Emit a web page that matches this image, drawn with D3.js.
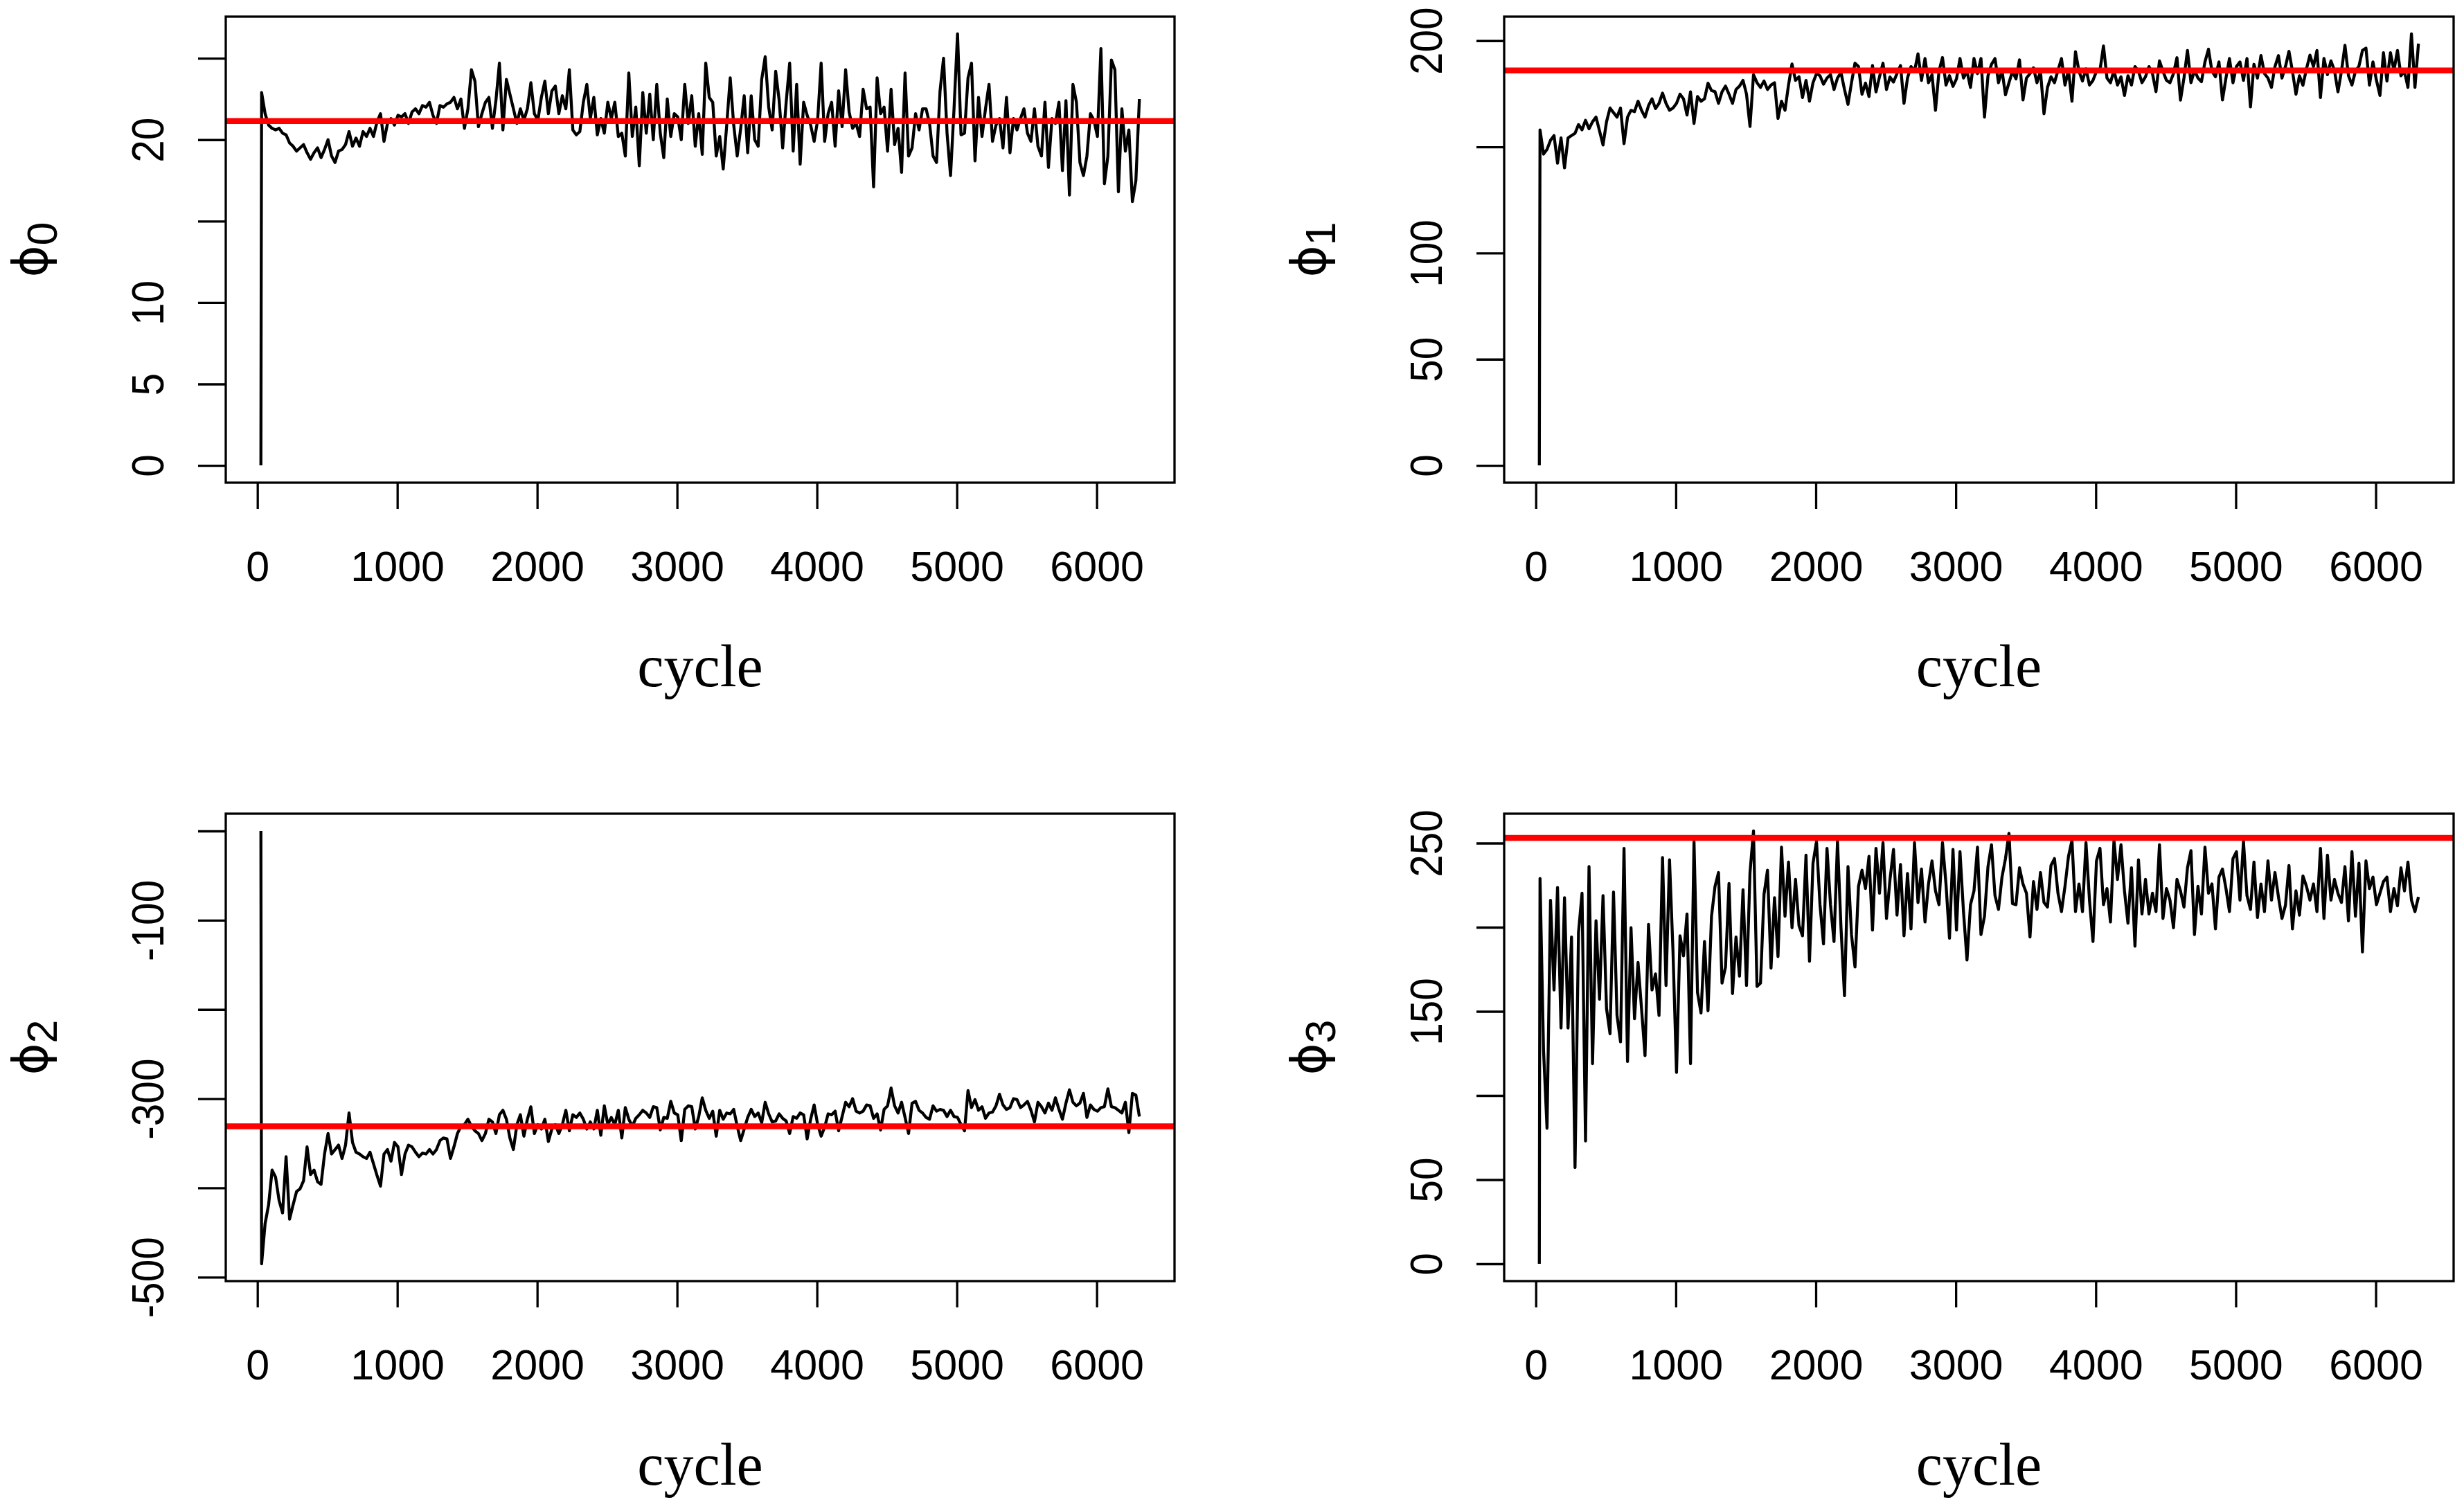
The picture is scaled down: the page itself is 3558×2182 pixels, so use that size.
<!DOCTYPE html>
<html lang="en">

<head>
    <meta charset="UTF-8">
    <title>MCMC trace plots</title>
    <script src="https://d3js.org/d3.v7.min.js"></script>
    <style>
        body { margin: 0; background: #ffffff; overflow: hidden; }
    </style>
</head>

<body>
    <div class="canvas"></div>

    <script>
        // chain start (cycles 25 and 27), then one value every 25 cycles from cycle 30
        let leadCycles = [25, 27];
        let firstCycle = 30;
        let cycleStep = 25;

        let phi0Lead = [0, 11];
        let phi0 = [
            22.9, 21.6, 20.9, 20.7, 20.6, 20.7, 20.4, 20.3, 19.8, 19.6,
            19.3, 19.5, 19.7, 19.2, 18.8, 19.2, 19.5, 18.9, 19.4, 20.0,
            19.0, 18.6, 19.3, 19.4, 19.7, 20.5, 19.6, 20.1, 19.6, 20.5,
            20.2, 20.7, 20.2, 21.1, 21.6, 19.9, 21.0, 21.3, 20.9, 21.5,
            21.4, 21.6, 21.0, 21.7, 21.9, 21.6, 22.1, 22.0, 22.3, 21.5,
            21.0, 22.1, 22.0, 22.2, 22.3, 22.6, 21.9, 22.5, 20.7, 21.9,
            24.3, 23.6, 20.8, 21.6, 22.3, 22.6, 20.7, 22.4, 24.7, 20.6,
            23.7, 22.8, 21.9, 21.0, 21.9, 21.2, 21.9, 23.5, 21.6, 21.2,
            22.6, 23.6, 21.6, 23.0, 23.3, 21.6, 22.7, 21.9, 24.3, 20.6,
            20.3, 20.5, 22.3, 23.4, 21.3, 22.6, 20.3, 21.3, 20.4, 22.3,
            21.3, 22.3, 20.2, 20.4, 19.0, 24.1, 20.2, 22.0, 18.4, 22.9,
            20.4, 22.8, 20.0, 23.4, 20.4, 18.9, 22.5, 20.2, 21.6, 21.4,
            20.0, 23.4, 21.0, 22.7, 19.6, 21.6, 19.1, 24.7, 22.6, 22.3,
            19.0, 20.2, 18.2, 20.9, 23.8, 20.9, 19.0, 20.7, 22.7, 19.2,
            22.7, 20.0, 19.6, 23.7, 25.1, 22.0, 20.6, 24.2, 22.4, 19.5,
            22.3, 24.7, 19.3, 23.4, 18.5, 22.3, 21.5, 20.9, 19.9, 21.2,
            24.7, 19.9, 21.6, 22.3, 19.6, 23.0, 20.8, 24.3, 21.7, 20.7,
            21.0, 20.2, 23.1, 21.9, 22.0, 17.1, 23.8, 21.6, 22.0, 19.3,
            23.1, 19.7, 20.7, 18.0, 24.1, 19.0, 19.5, 21.6, 20.6, 21.9,
            21.9, 21.0, 19.0, 18.6, 23.0, 25.0, 20.4, 17.8, 21.9, 26.5,
            20.3, 20.4, 23.8, 24.7, 18.7, 22.6, 20.2, 21.9, 23.4, 19.9,
            20.9, 21.3, 19.5, 22.6, 19.2, 21.3, 20.6, 21.3, 21.9, 20.4,
            19.9, 21.9, 19.6, 19.0, 22.3, 18.3, 21.3, 21.0, 22.3, 18.1,
            22.4, 16.6, 23.4, 22.3, 18.6, 17.8, 19.0, 21.6, 21.2, 20.2,
            25.6, 17.3, 19.0, 24.9, 24.3, 16.8, 21.9, 19.3, 20.6, 16.2,
            17.5, 22.5
        ];

        let phi1Lead = [0, 70];
        let phi1 = [
            158.0, 146.6, 148.8, 153.1, 155.3, 142.3, 154.2, 140.1, 154.2, 155.3,
            156.4, 160.5, 158.0, 162.5, 158.5, 161.8, 164.0, 157.5, 150.9, 161.8,
            168.3, 166.1, 164.0, 168.3, 151.5, 164.0, 167.2, 166.6, 171.5, 167.2,
            164.0, 169.4, 172.6, 168.0, 170.5, 175.3, 170.5, 167.2, 168.3, 170.5,
            174.8, 172.6, 165.0, 175.9, 161.0, 173.7, 171.5, 172.6, 180.0, 176.5,
            176.0, 170.5, 175.9, 178.6, 174.8, 170.5, 177.0, 178.6, 181.3, 174.8,
            159.6, 184.0, 180.2, 178.0, 181.0, 177.0, 179.1, 180.2, 163.4, 171.5,
            167.2, 179.1, 189.0, 181.3, 183.0, 173.2, 181.3, 171.5, 180.2, 184.5,
            183.5, 179.5, 182.4, 184.0, 177.0, 182.4, 185.0, 177.0, 170.0, 180.2,
            189.4, 187.8, 174.8, 180.0, 173.7, 188.3, 175.9, 183.0, 189.4, 177.0,
            182.9, 180.5, 184.5, 188.3, 170.5, 182.4, 187.8, 185.6, 193.8, 181.3,
            191.6, 180.2, 184.0, 167.2, 185.6, 192.1, 179.1, 183.5, 178.5, 182.0,
            191.6, 182.4, 185.6, 178.0, 191.6, 184.5, 191.6, 164.0, 183.5, 188.9,
            191.6, 180.2, 186.0, 174.5, 180.2, 185.5, 182.0, 191.0, 172.1, 182.4,
            184.5, 187.2, 180.2, 185.6, 165.6, 178.0, 183.0, 180.2, 186.0, 191.6,
            179.1, 186.0, 171.5, 194.8, 185.6, 181.0, 186.7, 179.1, 181.3, 185.6,
            186.0, 197.5, 182.4, 180.2, 186.0, 179.1, 183.0, 174.2, 183.5, 179.1,
            187.8, 185.6, 180.2, 183.0, 187.8, 184.5, 176.0, 190.5, 185.6, 181.3,
            180.2, 184.5, 192.0, 172.0, 182.4, 195.4, 180.2, 186.0, 182.4, 180.7,
            190.0, 196.0, 185.6, 183.0, 190.0, 172.1, 182.4, 191.6, 180.2, 187.8,
            190.0, 181.3, 191.6, 168.8, 188.9, 182.4, 193.0, 184.5, 182.4, 178.0,
            187.8, 193.0, 182.4, 187.8, 195.0, 185.6, 174.8, 183.5, 179.0, 186.7,
            193.2, 187.8, 195.4, 173.2, 191.6, 184.0, 190.5, 186.0, 175.9, 185.6,
            197.8, 183.5, 179.1, 185.6, 188.0, 195.4, 196.5, 179.1, 190.0, 181.3,
            174.2, 194.3, 181.0, 194.3, 186.0, 195.4, 183.5, 185.6, 178.0, 203.2,
            178.0, 198.6
        ];

        let phi2Lead = [0, -245];
        let phi2 = [
            -485, -440, -419, -380, -388, -414, -428, -365, -435, -419,
            -404, -401, -392, -354, -385, -380, -393, -396, -362, -339,
            -362, -357, -352, -367, -352, -316, -349, -360, -362, -365,
            -367, -360, -373, -386, -398, -362, -357, -370, -349, -354,
            -385, -362, -352, -354, -360, -365, -361, -362, -357, -362,
            -357, -347, -344, -345, -367, -354, -339, -331, -329, -323,
            -331, -336, -339, -347, -339, -323, -326, -339, -318, -313,
            -323, -344, -357, -329, -318, -342, -323, -309, -339, -329,
            -334, -323, -348, -334, -329, -339, -329, -313, -336, -318,
            -321, -316, -323, -334, -326, -334, -313, -341, -308, -329,
            -321, -329, -313, -344, -310, -323, -331, -322, -318, -313,
            -316, -321, -309, -310, -335, -321, -322, -303, -316, -318,
            -347, -312, -308, -309, -334, -320, -299, -313, -322, -314,
            -342, -313, -323, -316, -317, -312, -331, -347, -334, -321,
            -312, -320, -316, -327, -304, -317, -326, -325, -317, -322,
            -325, -339, -320, -322, -316, -318, -345, -323, -307, -329,
            -342, -332, -317, -318, -314, -336, -320, -304, -309, -300,
            -314, -316, -314, -307, -308, -322, -317, -335, -312, -308,
            -288, -308, -316, -304, -321, -339, -305, -303, -313, -316,
            -321, -323, -308, -314, -312, -313, -320, -313, -320, -321,
            -329, -336, -291, -310, -301, -313, -309, -322, -316, -315,
            -308, -295, -307, -312, -310, -300, -301, -310, -307, -303,
            -313, -326, -304, -309, -316, -305, -313, -299, -312, -323,
            -305, -290, -304, -308, -305, -294, -321, -307, -312, -314,
            -310, -309, -289, -309, -310, -313, -316, -304, -338, -294,
            -296, -320
        ];

        let phi3Lead = [0, 115];
        let phi3 = [
            229.0, 127.0, 80.5, 216.0, 162.7, 223.6, 140.1, 217.5, 140.1, 194.2,
            57.2, 196.9, 220.2, 73.0, 236.0, 118.9, 203.8, 157.2, 218.8, 151.7,
            136.7, 220.9, 147.6, 131.9, 246.9, 120.2, 199.7, 145.6, 179.1, 151.7,
            123.7, 201.7, 162.7, 172.3, 147.6, 241.4, 165.4, 240.1, 185.3, 113.7,
            194.9, 183.0, 207.9, 118.9, 251.0, 161.3, 149.0, 191.5, 150.4, 206.5,
            224.3, 232.5, 166.8, 176.4, 226.0, 160.6, 194.2, 170.9, 222.3, 165.4,
            232.5, 257.2, 164.8, 166.8, 219.5, 233.9, 175.7, 217.5, 182.6, 247.6,
            206.5, 238.7, 199.7, 228.4, 201.0, 194.9, 242.8, 179.8, 238.0, 251.0,
            213.4, 190.1, 246.9, 213.4, 191.5, 251.0, 199.7, 159.3, 236.0, 195.6,
            176.4, 224.3, 233.9, 223.0, 242.1, 198.3, 246.9, 220.2, 250.3, 205.2,
            228.4, 246.2, 207.2, 237.3, 194.9, 231.9, 199.0, 250.3, 214.7, 234.6,
            203.1, 225.7, 239.4, 221.6, 213.4, 250.3, 225.7, 193.5, 246.2, 198.3,
            244.9, 209.3, 180.5, 213.4, 221.6, 247.6, 195.6, 206.5, 236.0,
            249.0, 218.8, 210.6, 229.8, 240.8, 255.8, 214.0, 213.4, 235.3, 225.7,
            220.2, 194.2, 227.1, 210.6, 232.5, 214.7, 212.0, 236.7, 240.8, 220.2,
            209.3, 224.3, 242.1, 251.7, 209.3, 225.7, 209.3, 250.3, 216.1, 191.5,
            239.4, 246.9, 213.4, 223.0, 203.1, 251.7, 228.4, 249.0, 221.6, 202.4,
            235.3, 188.7, 240.1, 207.9, 228.4, 207.9, 220.2, 209.3, 249.0, 205.2,
            223.0, 216.1, 199.7, 228.4, 221.6, 212.0, 235.3, 245.5, 195.6, 224.3,
            207.9, 247.6, 220.2, 225.7, 199.0, 229.8, 234.6, 223.0, 209.3, 240.8,
            244.9, 216.1, 251.0, 218.8, 210.6, 238.7, 205.8, 225.7, 209.3, 239.4,
            216.1, 232.5, 218.0, 205.2, 213.0, 236.7, 199.0, 221.6, 207.2, 230.5,
            224.3, 216.1, 225.7, 209.3, 246.9, 205.2, 242.8, 216.1, 228.4, 220.2,
            214.7, 236.0, 203.8, 244.9, 206.5, 238.0, 185.3, 239.4, 223.0, 229.8,
            213.4, 220.2, 227.1, 229.8, 209.3, 223.0, 212.7, 235.3, 221.6, 238.7,
            216.1, 209.3, 218.0
        ];

        // posterior means (red lines)
        let phiMeans = [21.15, 186.0, -331, 253.1];

        // axis ticks and the labels R actually printed
        let xTicks = [0, 1000, 2000, 3000, 4000, 5000, 6000];
        let phi0Ticks = [0, 5, 10, 15, 20, 25];
        let phi0Labels = [0, 5, 10, 20];
        let phi1Ticks = [0, 50, 100, 150, 200];
        let phi1Labels = [0, 50, 100, 200];
        let phi2Ticks = [-500, -400, -300, -200, -100, 0];
        let phi2Labels = [-500, -300, -100];
        let phi3Ticks = [0, 50, 100, 150, 200, 250];
        let phi3Labels = [0, 50, 150, 250];
        let subscripts = ["0", "1", "2", "3"];

        // layout (plot boxes in px)
        let width = 3558, height = 2182;
        let colX = [[326, 1696], [2172, 3543]];
        let rowY = [[24, 697], [1175, 1850]];
        let sansFont = "'Liberation Sans', Arial, Helvetica, sans-serif";

        let panels = [
            { lead: phi0Lead, values: phi0, ticks: phi0Ticks, labels: phi0Labels, mean: phiMeans[0], sub: subscripts[0], col: 0, row: 0 },
            { lead: phi1Lead, values: phi1, ticks: phi1Ticks, labels: phi1Labels, mean: phiMeans[1], sub: subscripts[1], col: 1, row: 0 },
            { lead: phi2Lead, values: phi2, ticks: phi2Ticks, labels: phi2Labels, mean: phiMeans[2], sub: subscripts[2], col: 0, row: 1 },
            { lead: phi3Lead, values: phi3, ticks: phi3Ticks, labels: phi3Labels, mean: phiMeans[3], sub: subscripts[3], col: 1, row: 1 }
        ];

        // R style 4% axis padding
        function pad(e) {
            let r = e[1] - e[0];
            return [e[0] - 0.04 * r, e[1] + 0.04 * r];
        }

        let svg = d3.select("body").select(".canvas")
            .append("svg")
            .attr("width", width)
            .attr("height", height)
            .style("display", "block");

        svg.append("rect").attr("width", width).attr("height", height).attr("fill", "#ffffff");

        panels.forEach(function (p) {
            let x0 = colX[p.col][0], x1 = colX[p.col][1];
            let y0 = rowY[p.row][0], y1 = rowY[p.row][1];

            let cycles = leadCycles.concat(p.values.map((v, i) => firstCycle + i * cycleStep));
            let vals = p.lead.concat(p.values);
            let pts = cycles.map((c, i) => [c, vals[i]]);

            let x_scale = d3.scaleLinear().domain(pad(d3.extent(cycles))).range([x0, x1]);
            let y_scale = d3.scaleLinear().domain(pad(d3.extent(vals))).range([y1, y0]);

            let g = svg.append("g");

            // trace
            g.append("path")
                .datum(pts)
                .attr("d", d3.line().x(d => x_scale(d[0])).y(d => y_scale(d[1])))
                .attr("fill", "none")
                .attr("stroke", "#000000")
                .attr("stroke-width", 4.3)
                .attr("stroke-linejoin", "round");

            // mean line
            g.append("line")
                .attr("x1", x0).attr("x2", x1)
                .attr("y1", y_scale(p.mean)).attr("y2", y_scale(p.mean))
                .attr("stroke", "#ff0000")
                .attr("stroke-width", 8.5);

            // box
            g.append("rect")
                .attr("x", x0).attr("y", y0)
                .attr("width", x1 - x0).attr("height", y1 - y0)
                .attr("fill", "none")
                .attr("stroke", "#000000")
                .attr("stroke-width", 3.3);

            // x axis
            let gx = g.append("g")
                .attr("transform", "translate(0," + y1 + ")")
                .call(d3.axisBottom(x_scale).tickValues(xTicks).tickSize(38).tickSizeOuter(0).tickFormat(String))
                .attr("font-size", 61)
                .attr("font-family", sansFont);
            gx.select(".domain").remove();
            gx.selectAll("line").attr("stroke", "#000000").attr("stroke-width", 3.3);
            gx.selectAll("text").attr("y", 142).attr("dy", null).attr("fill", "#000000");

            // y axis, labels rotated like R's default las = 0
            let gy = g.append("g")
                .attr("transform", "translate(" + x0 + ",0)")
                .call(d3.axisLeft(y_scale).tickValues(p.ticks).tickSize(40).tickSizeOuter(0)
                    .tickFormat(d => p.labels.includes(d) ? String(d) : ""))
                .attr("font-size", 65)
                .attr("font-family", sansFont);
            gy.select(".domain").remove();
            gy.selectAll("line").attr("stroke", "#000000").attr("stroke-width", 3.3);
            gy.selectAll("text")
                .attr("x", null).attr("dy", null)
                .attr("text-anchor", "middle")
                .attr("fill", "#000000")
                .attr("transform", "translate(-90,0) rotate(-90) scale(0.9,1)");

            // x title
            g.append("text")
                .attr("x", (x0 + x1) / 2)
                .attr("y", y1 + 294)
                .attr("text-anchor", "middle")
                .attr("font-family", "'Liberation Serif', 'Times New Roman', serif")
                .attr("font-size", 86)
                .attr("fill", "#000000")
                .text("cycle");

            // y title: phi with subscript
            let yt = g.append("text")
                .attr("transform", "translate(" + (x0 - 258) + "," + ((y0 + y1) / 2) + ") rotate(-90)")
                .attr("text-anchor", "middle")
                .attr("fill", "#000000");
            yt.append("tspan")
                .attr("font-family", "'DejaVu Sans', sans-serif")
                .attr("font-size", 70)
                .text("\u03D5");
            yt.append("tspan")
                .attr("font-family", sansFont)
                .attr("font-size", 61)
                .attr("dy", 14)
                .text(p.sub);
        });
    </script>
</body>

</html>
